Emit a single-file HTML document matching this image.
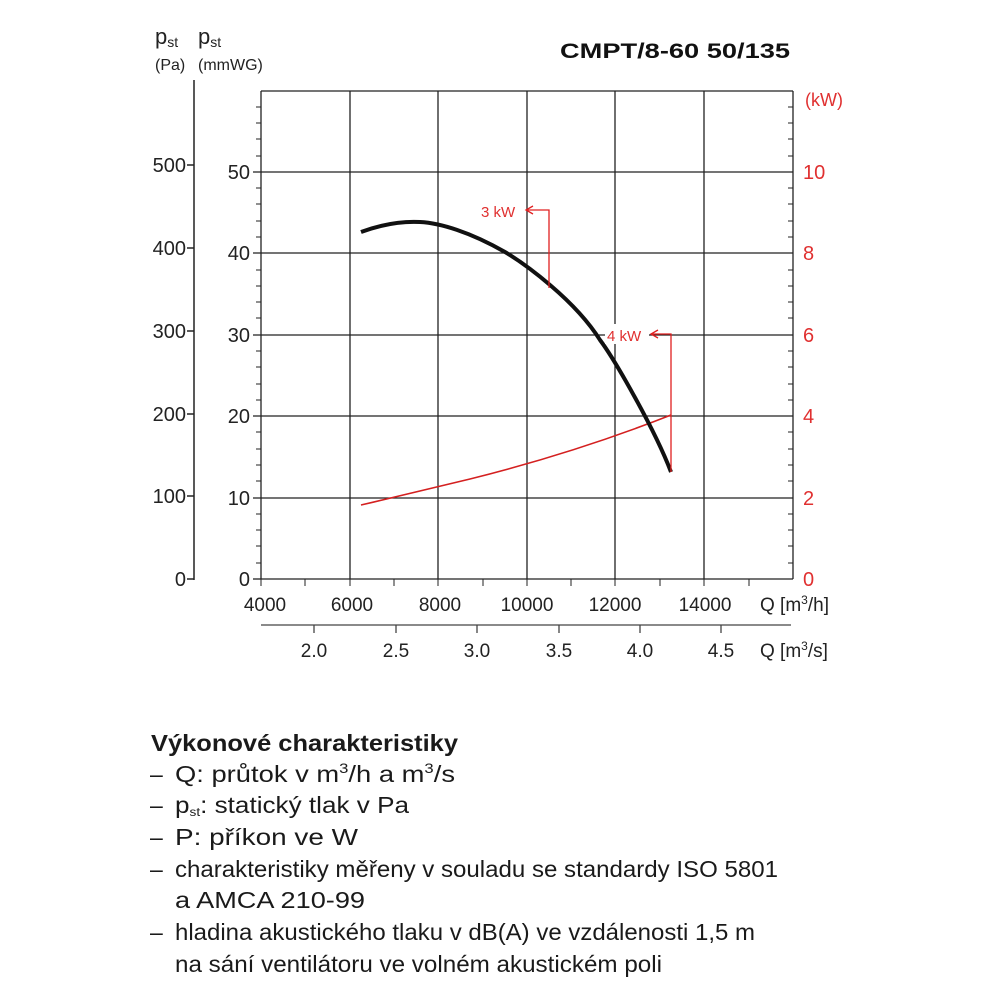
<!DOCTYPE html>
<html><head><meta charset="utf-8"><style>html,body{margin:0;padding:0;background:#fff}svg{display:block}</style></head>
<body>
<svg width="1000" height="1000" viewBox="0 0 1000 1000" xmlns="http://www.w3.org/2000/svg" font-family="Liberation Sans, Arial, sans-serif">
<rect width="1000" height="1000" fill="#fff"/>
<text x="155" y="44" font-size="22" fill="#222">p<tspan font-size="14" dy="3">st</tspan></text>
<text x="198" y="44" font-size="22" fill="#222">p<tspan font-size="14" dy="3">st</tspan></text>
<text x="155" y="70" font-size="16" fill="#222">(Pa)</text>
<text x="198" y="70" font-size="16" fill="#222">(mmWG)</text>
<text x="790" y="58" font-size="21" font-weight="bold" text-anchor="end" fill="#111" textLength="230" lengthAdjust="spacingAndGlyphs">CMPT/8-60 50/135</text>
<text x="805" y="106" font-size="18" fill="#e03030">(kW)</text>

<g stroke="#222" stroke-width="1.5" fill="none">
<line x1="194" y1="80" x2="194" y2="580"/>
<line x1="187" y1="579" x2="194" y2="579"/>
<line x1="187" y1="165" x2="194" y2="165"/>
<line x1="187" y1="248" x2="194" y2="248"/>
<line x1="187" y1="331" x2="194" y2="331"/>
<line x1="187" y1="414" x2="194" y2="414"/>
<line x1="187" y1="496" x2="194" y2="496"/>
</g>
<g font-size="20" fill="#222" text-anchor="end">
<text x="186" y="172">500</text><text x="186" y="255">400</text><text x="186" y="338">300</text>
<text x="186" y="421">200</text><text x="186" y="503">100</text><text x="186" y="586">0</text>
</g>

<g stroke="#222" stroke-width="1.3" fill="none">
<line x1="261" y1="91" x2="793" y2="91"/>
<line x1="261" y1="91" x2="261" y2="579"/>
<line x1="793" y1="91" x2="793" y2="579"/>
<line x1="261" y1="579" x2="793" y2="579"/>
<line x1="350" y1="91" x2="350" y2="579"/>
<line x1="438" y1="91" x2="438" y2="579"/>
<line x1="527" y1="91" x2="527" y2="579"/>
<line x1="615" y1="91" x2="615" y2="579"/>
<line x1="704" y1="91" x2="704" y2="579"/>
<line x1="253" y1="172" x2="793" y2="172"/>
<line x1="253" y1="253" x2="793" y2="253"/>
<line x1="253" y1="335" x2="793" y2="335"/>
<line x1="253" y1="416" x2="793" y2="416"/>
<line x1="253" y1="498" x2="793" y2="498"/>
<line x1="253" y1="579" x2="261" y2="579"/>
</g>
<g stroke="#222" stroke-width="1" id="mt">
<line x1="256" y1="107" x2="261" y2="107"/><line x1="256" y1="123" x2="261" y2="123"/><line x1="256" y1="139" x2="261" y2="139"/><line x1="256" y1="156" x2="261" y2="156"/>
<line x1="256" y1="188" x2="261" y2="188"/><line x1="256" y1="204" x2="261" y2="204"/><line x1="256" y1="221" x2="261" y2="221"/><line x1="256" y1="237" x2="261" y2="237"/>
<line x1="256" y1="270" x2="261" y2="270"/><line x1="256" y1="286" x2="261" y2="286"/><line x1="256" y1="302" x2="261" y2="302"/><line x1="256" y1="318" x2="261" y2="318"/>
<line x1="256" y1="351" x2="261" y2="351"/><line x1="256" y1="367" x2="261" y2="367"/><line x1="256" y1="384" x2="261" y2="384"/><line x1="256" y1="400" x2="261" y2="400"/>
<line x1="256" y1="432" x2="261" y2="432"/><line x1="256" y1="449" x2="261" y2="449"/><line x1="256" y1="465" x2="261" y2="465"/><line x1="256" y1="481" x2="261" y2="481"/>
<line x1="256" y1="514" x2="261" y2="514"/><line x1="256" y1="530" x2="261" y2="530"/><line x1="256" y1="546" x2="261" y2="546"/><line x1="256" y1="563" x2="261" y2="563"/>
</g>
<use href="#mt" transform="translate(532,0)"/>
<g stroke="#222" stroke-width="1">
<line x1="261" y1="579" x2="261" y2="586"/><line x1="305" y1="579" x2="305" y2="586"/><line x1="350" y1="579" x2="350" y2="586"/><line x1="394" y1="579" x2="394" y2="586"/>
<line x1="438" y1="579" x2="438" y2="586"/><line x1="483" y1="579" x2="483" y2="586"/><line x1="527" y1="579" x2="527" y2="586"/><line x1="571" y1="579" x2="571" y2="586"/>
<line x1="615" y1="579" x2="615" y2="586"/><line x1="660" y1="579" x2="660" y2="586"/><line x1="704" y1="579" x2="704" y2="586"/><line x1="749" y1="579" x2="749" y2="586"/>
</g>
<g font-size="20" fill="#222" text-anchor="end">
<text x="250" y="179">50</text><text x="250" y="260">40</text><text x="250" y="342">30</text>
<text x="250" y="423">20</text><text x="250" y="505">10</text><text x="250" y="586">0</text>
</g>
<g font-size="20" fill="#e03030">
<text x="803" y="179">10</text><text x="803" y="260">8</text><text x="803" y="342">6</text>
<text x="803" y="423">4</text><text x="803" y="505">2</text><text x="803" y="586">0</text>
</g>
<g font-size="19" fill="#222" text-anchor="middle">
<text x="265" y="611">4000</text><text x="352" y="611">6000</text><text x="440" y="611">8000</text>
<text x="527" y="611">10000</text><text x="615" y="611">12000</text><text x="705" y="611">14000</text>
<text x="314" y="657">2.0</text><text x="396" y="657">2.5</text><text x="477" y="657">3.0</text>
<text x="559" y="657">3.5</text><text x="640" y="657">4.0</text><text x="721" y="657">4.5</text>
</g>
<text x="760" y="611" font-size="19" fill="#222">Q [m<tspan font-size="12" dy="-7">3</tspan><tspan dy="7">/h]</tspan></text>
<text x="760" y="657" font-size="19" fill="#222">Q [m<tspan font-size="12" dy="-7">3</tspan><tspan dy="7">/s]</tspan></text>
<g stroke="#444" stroke-width="1.3">
<line x1="261" y1="625" x2="791" y2="625"/>
<line x1="314" y1="625" x2="314" y2="633"/><line x1="396" y1="625" x2="396" y2="633"/><line x1="477" y1="625" x2="477" y2="633"/>
<line x1="559" y1="625" x2="559" y2="633"/><line x1="640" y1="625" x2="640" y2="633"/><line x1="721" y1="625" x2="721" y2="633"/>
</g>

<path d="M361,505 C400,496 440,486 470,479 C530,464 600,443 671,415" stroke="#d42020" stroke-width="1.6" fill="none"/>
<path d="M361,232 C380,225 400,221 420,222 C440,223 470,232 505,252 C525,264 575,300 600,340 C615,360 655,430 671,472" stroke="#111" stroke-width="4" fill="none"/>
<g stroke="#e02020" stroke-width="1.3" fill="none">
<polyline points="526,210 549,210 549,288"/>
<polyline points="533,206 526,210 533,214"/>
<polyline points="651,334 671,334 671,472"/>
<polyline points="658,330 651,334 658,338"/>
</g>
<rect x="605" y="324" width="44" height="20" fill="#fff"/>
<text x="481" y="217" font-size="15" fill="#e03030">3 kW</text>
<text x="607" y="341" font-size="15" fill="#e03030">4 kW</text>

<g fill="#1a1a1a" font-size="23">
<text x="151" y="751" font-weight="bold" textLength="307" lengthAdjust="spacingAndGlyphs">Výkonové charakteristiky</text>
<text x="150" y="782">–</text><text x="150" y="813">–</text><text x="150" y="845">–</text><text x="150" y="877">–</text><text x="150" y="940">–</text>
<text x="175" y="782" textLength="280" lengthAdjust="spacingAndGlyphs">Q: průtok v m<tspan font-size="14" dy="-9">3</tspan><tspan dy="9">/h a m</tspan><tspan font-size="14" dy="-9">3</tspan><tspan dy="9">/s</tspan></text>
<text x="175" y="813" textLength="234" lengthAdjust="spacingAndGlyphs">p<tspan font-size="12" dy="3">st</tspan><tspan dy="-3">: statický tlak v Pa</tspan></text>
<text x="175" y="845" textLength="183" lengthAdjust="spacingAndGlyphs">P: příkon ve W</text>
<text x="175" y="877" textLength="603" lengthAdjust="spacingAndGlyphs">charakteristiky měřeny v souladu se standardy ISO 5801</text>
<text x="175" y="908" textLength="190" lengthAdjust="spacingAndGlyphs">a AMCA 210-99</text>
<text x="175" y="940" textLength="580" lengthAdjust="spacingAndGlyphs">hladina akustického tlaku v dB(A) ve vzdálenosti 1,5 m</text>
<text x="175" y="972" textLength="487" lengthAdjust="spacingAndGlyphs">na sání ventilátoru ve volném akustickém poli</text>
</g>
</svg>
</body></html>
